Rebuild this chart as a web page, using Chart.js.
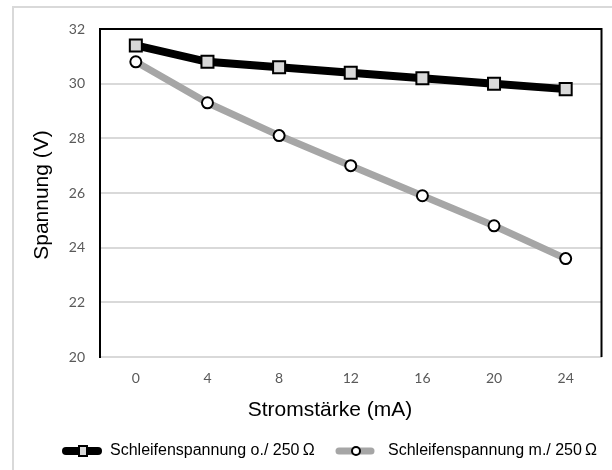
<!DOCTYPE html>
<html>
<head>
<meta charset="utf-8">
<script src="https://cdn.jsdelivr.net/npm/chart.js@4"></script>
<style>
  html, body { margin: 0; padding: 0; background: #fff; }
  #wrap { position: relative; width: 612px; height: 470px; overflow: hidden; }
  #frame { position: absolute; left: 12px; top: 6px; width: 620px; height: 480px; border: 2px solid #d9d9d9; box-sizing: border-box; }
  canvas { position: absolute; left: 0; top: 0; }
</style>
</head>
<body>
<div id="wrap">
  <div id="frame"></div>
  <canvas id="chart" width="612" height="470"></canvas>
</div>
<script>
// Daten aus dem Diagramm
const currents = ['0', '4', '8', '12', '16', '20', '24'];
const voltageWithout = [31.4, 30.8, 30.6, 30.4, 30.2, 30.0, 29.8];
const voltageWith = [30.8, 29.3, 28.1, 27.0, 25.9, 24.8, 23.6];
const seriesNames = ['Schleifenspannung o./ 250\u2009Ω', 'Schleifenspannung m./ 250\u2009Ω'];
const xTitle = 'Stromstärke (mA)';
const yTitle = 'Spannung (V)';

const tickFont = { family: 'Lato, "Open Sans", sans-serif', size: 14 };

// Rahmen, Achsentitel und Legende selbst zeichnen
const decorPlugin = {
    id: 'decor',
    afterDraw(chart) {
        const ctx = chart.ctx;
        const a = chart.chartArea;
        ctx.save();
        // schwarzer Rahmen oben und rechts
        ctx.strokeStyle = '#000';
        ctx.lineWidth = 2;
        ctx.beginPath();
        ctx.moveTo(a.left, a.top);
        ctx.lineTo(a.right, a.top);
        ctx.lineTo(a.right, a.bottom);
        ctx.stroke();

        // Achsentitel
        ctx.fillStyle = '#000';
        ctx.font = '21px "Liberation Sans", Arial, sans-serif';
        ctx.textAlign = 'center';
        ctx.textBaseline = 'middle';
        ctx.fillText(xTitle, 330, 410);
        ctx.save();
        ctx.translate(42, 195);
        ctx.rotate(-Math.PI / 2);
        ctx.fillText(yTitle, 0, 0);
        ctx.restore();

        // Legende
        const y = 451;
        const items = [
            { x: 62, ds: chart.data.datasets[0] },
            { x: 335, ds: chart.data.datasets[1] }
        ];
        ctx.font = '16px "Liberation Sans", Arial, sans-serif';
        ctx.textAlign = 'left';
        items.forEach(it => {
            const ds = it.ds;
            ctx.strokeStyle = ds.borderColor;
            ctx.lineWidth = ds.borderWidth;
            ctx.lineCap = 'round';
            ctx.beginPath();
            ctx.moveTo(it.x + 4, y);
            ctx.lineTo(it.x + 36, y);
            ctx.stroke();
            ctx.lineCap = 'butt';
            const mx = it.x + 21;
            ctx.fillStyle = ds.pointBackgroundColor;
            ctx.strokeStyle = ds.pointBorderColor;
            ctx.lineWidth = 2;
            ctx.beginPath();
            if (ds.pointStyle === 'rect') {
                ctx.rect(mx - 4, y - 5, 8, 10);
            } else {
                ctx.arc(mx, y, 4, 0, Math.PI * 2);
            }
            ctx.fill();
            ctx.stroke();
            ctx.fillStyle = '#000';
            ctx.fillText(ds.label, it.x + (it.x < 100 ? 48 : 53), y);
        });
        ctx.restore();
    }
};

new Chart(document.getElementById('chart'), {
    type: 'line',
    data: {
        labels: currents,
        datasets: [
            {
                label: seriesNames[0],
                data: voltageWithout,
                borderColor: '#000',
                borderWidth: 8,
                pointStyle: 'rect',
                pointRadius: 8.5,
                pointBackgroundColor: '#d9d9d9',
                pointBorderColor: '#000',
                pointBorderWidth: 2
            },
            {
                label: seriesNames[1],
                data: voltageWith,
                borderColor: '#a6a6a6',
                borderWidth: 7,
                pointStyle: 'circle',
                pointRadius: 5.5,
                pointBackgroundColor: '#fff',
                pointBorderColor: '#000',
                pointBorderWidth: 2
            }
        ]
    },
    options: {
        responsive: false,
        animation: false,
        layout: { padding: { top: 29, right: 5, left: 0, bottom: 0 } },
        plugins: {
            legend: { display: false },
            tooltip: { enabled: false }
        },
        scales: {
            x: {
                offset: true,
                grid: { display: false, drawTicks: false },
                border: { color: '#d9d9d9', width: 2 },
                ticks: { color: '#595959', font: tickFont, padding: 13 },
                afterFit(scale) { scale.height = 113; }
            },
            y: {
                min: 20,
                max: 32,
                grid: { color: '#d9d9d9', lineWidth: 2, drawTicks: false },
                border: { color: '#000', width: 2 },
                ticks: { stepSize: 2, color: '#595959', font: tickFont, padding: 15 },
                afterFit(scale) { scale.width = 100; }
            }
        }
    },
    plugins: [decorPlugin]
});
</script>
</body>
</html>
